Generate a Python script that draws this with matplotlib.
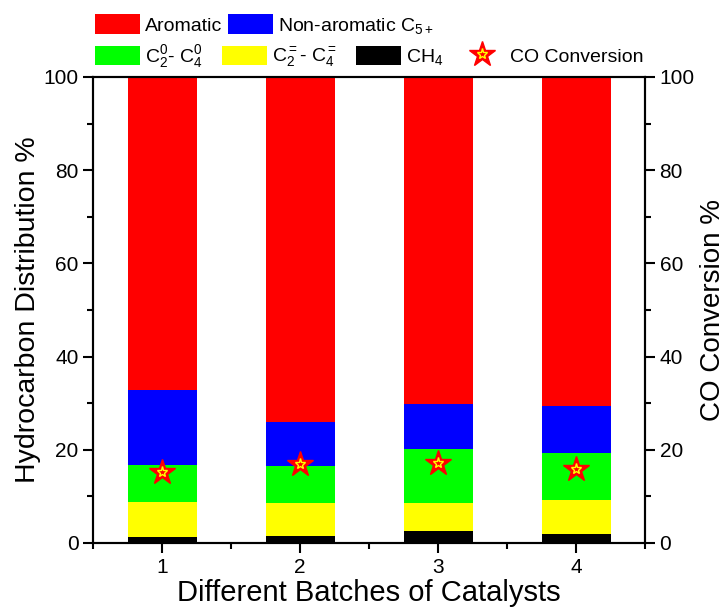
import matplotlib
matplotlib.use("Agg")
import matplotlib.pyplot as plt
from matplotlib.patches import Patch
from matplotlib.lines import Line2D
from matplotlib.legend_handler import HandlerTuple
from matplotlib.ticker import MultipleLocator

plt.rcParams['font.family'] = ['Liberation Sans', 'DejaVu Sans']
plt.rcParams['mathtext.fontset'] = 'custom'
plt.rcParams['mathtext.rm'] = 'Liberation Sans'
plt.rcParams['mathtext.it'] = 'Liberation Sans'
plt.rcParams['mathtext.bf'] = 'Liberation Sans'

batches = [1, 2, 3, 4]
ch4 = [1.35, 1.5, 2.6, 1.9]
olefins = [7.35, 7.1, 5.9, 7.3]
paraffins = [8.1, 8.0, 11.7, 10.2]
non_aromatic = [16.0, 9.4, 9.6, 10.0]
aromatic = [67.2, 74.0, 70.2, 70.6]
co_conversion = [15.3, 17.0, 17.1, 15.8]

series = [
    (ch4, '#000000', r'CH$_4$'),
    (olefins, '#FFFF00', r'C$_2^=$- C$_4^=$'),
    (paraffins, '#00FF00', r'C$_2^0$- C$_4^0$'),
    (non_aromatic, '#0000FF', r'Non-aromatic C$_{5+}$'),
    (aromatic, '#FF0000', 'Aromatic'),
]

fig = plt.figure(figsize=(7.27, 6.12), dpi=100)
ax = fig.add_axes([93/727, 1 - 543/612, (645-93)/727, (543-77)/612])

bottom = [0.0] * len(batches)
for vals, col, lab in series:
    ax.bar(batches, vals, width=0.5, bottom=bottom, color=col, edgecolor='none', linewidth=0)
    bottom = [b + v for b, v in zip(bottom, vals)]

ax.set_xlim(0.5, 4.5)
ax.set_ylim(0, 100)
ax.set_xticks(batches)
ax.xaxis.set_minor_locator(MultipleLocator(0.5))
ax.yaxis.set_major_locator(MultipleLocator(20))
ax.yaxis.set_minor_locator(MultipleLocator(10))
ax.tick_params(which='both', direction='out', width=1.5, labelsize=15)
ax.tick_params(which='major', length=7)
ax.tick_params(which='minor', length=4)
ax.tick_params(top=False, which='both')
for s in ax.spines.values():
    s.set_linewidth(1.5)
ax.set_xlabel('Different Batches of Catalysts', fontsize=21, labelpad=2)
ax.set_ylabel('Hydrocarbon Distribution %', fontsize=20.5, labelpad=2)

ax2 = ax.twinx()
ax2.set_ylim(0, 100)
ax2.yaxis.set_major_locator(MultipleLocator(20))
ax2.yaxis.set_minor_locator(MultipleLocator(10))
ax2.tick_params(which='both', direction='out', width=1.5, labelsize=15)
ax2.tick_params(which='major', length=7)
ax2.tick_params(which='minor', length=4)
for s in ax2.spines.values():
    s.set_linewidth(1.5)
ax2.set_ylabel('CO Conversion %', fontsize=20, labelpad=4)
ax2.plot(batches, co_conversion, linestyle='none', marker='*', markersize=19,
         markerfacecolor='#FF0000', markeredgecolor='#FF0000', zorder=5)
ax2.plot(batches, co_conversion, linestyle='none', marker='*', markersize=8,
         markerfacecolor='#FF0000', markeredgecolor='#FFFF00', markeredgewidth=1.0, zorder=6)

def ph(col):
    return Patch(facecolor=col, edgecolor='none')

star_big = Line2D([], [], linestyle='none', marker='*', markersize=19,
                  markerfacecolor='#FF0000', markeredgecolor='#FF0000')
star_small = Line2D([], [], linestyle='none', marker='*', markersize=8,
                    markerfacecolor='#FF0000', markeredgecolor='#FFFF00', markeredgewidth=1.0)

common = dict(frameon=False, fontsize=14, handlelength=2.3, handleheight=1.15,
              handletextpad=0.26, borderaxespad=0, borderpad=0)

leg1 = fig.legend([ph('#FF0000'), ph('#0000FF')],
                  ['Aromatic', r'Non-aromatic C$_{5+}$'],
                  loc='center left', bbox_to_anchor=(95/727, 1 - 25/612), ncol=2,
                  columnspacing=0.3, **common)
leg2 = fig.legend([ph('#00FF00'), ph('#FFFF00'), ph('#000000')],
                  [r'C$_2^0$- C$_4^0$', r'C$_2^=$- C$_4^=$', r'CH$_4$'],
                  loc='center left', bbox_to_anchor=(95/727, 1 - 57/612), ncol=3,
                  columnspacing=1.0, **common)
leg3 = fig.legend([(star_big, star_small)], ['CO Conversion'],
                  handler_map={tuple: HandlerTuple(ndivide=1)},
                  loc='center left', bbox_to_anchor=(460/727, 1 - 56/612), ncol=1,
                  columnspacing=0.3, **common)

fig.savefig('out.png', dpi=100)
